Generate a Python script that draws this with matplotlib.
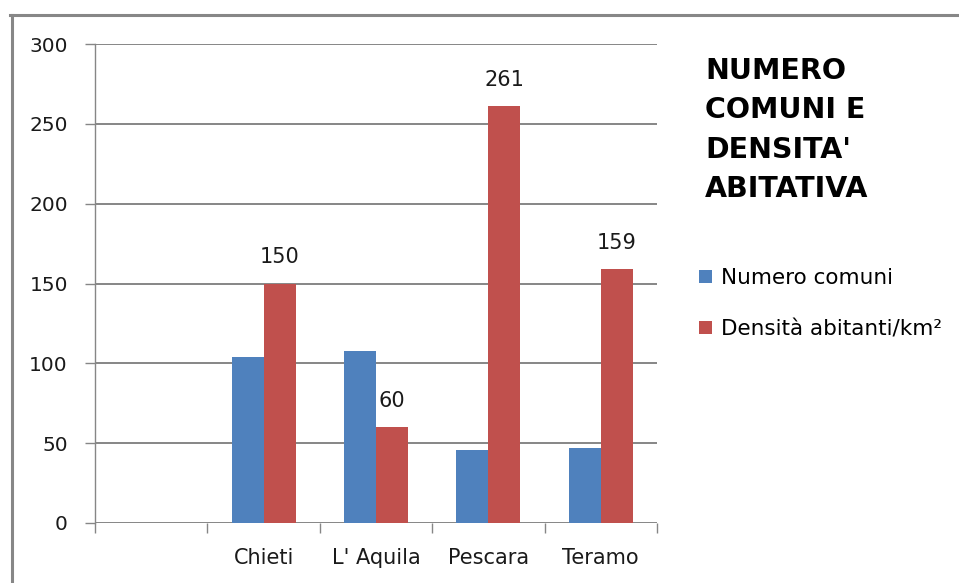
import numpy as np
import matplotlib
matplotlib.use('Agg')
import matplotlib.pyplot as plt
from matplotlib.lines import Line2D
from matplotlib.patches import Patch
from matplotlib.ticker import MultipleLocator, FixedLocator

# data
provinces = ['', 'Chieti', "L' Aquila", 'Pescara', 'Teramo']
numero_comuni = [np.nan, 104, 108, 46, 47]
densita = [np.nan, 150, 60, 261, 159]
series_names = ['Numero comuni', 'Densità abitanti/km²']
title = "NUMERO\nCOMUNI E\nDENSITA'\nABITATIVA"

blue = '#4F81BD'
red = '#C0504D'
grey = '#868686'

W, H = 959, 583
fig = plt.figure(figsize=(W / 100, H / 100), dpi=100)
plt.rcParams['font.family'] = ['DejaVu Sans']

ax = fig.add_axes([95 / W, 1 - 523 / H, (657 - 95) / W, (523 - 44) / H])

x = np.arange(len(provinces))
w = 0.285
ax.bar(x - w / 2, numero_comuni, w, color=blue, zorder=3)
bars = ax.bar(x + w / 2, densita, w, color=red, zorder=3)

for xi, v in zip(x, densita):
    if np.isnan(v):
        continue
    ax.annotate(str(int(v)), (xi + w / 2, v), xytext=(0, 19), textcoords='offset points',
                ha='center', va='center', fontsize=15, color='#1a1a1a')

ax.set_xlim(-0.5, len(provinces) - 0.5)
ax.set_ylim(0, 300)
ax.yaxis.set_major_locator(MultipleLocator(50))
ax.grid(axis='y', color=grey, linewidth=1.4, zorder=0)

for s in ['top', 'right', 'bottom']:
    ax.spines[s].set_visible(False)
ax.spines['left'].set_color(grey)
ax.spines['left'].set_linewidth(1.0)

ax.set_xticks(x)
ax.set_xticklabels(provinces, fontsize=15, color='#1a1a1a')
ax.tick_params(axis='x', which='major', length=0, pad=18)
ax.xaxis.set_minor_locator(FixedLocator(np.arange(-0.5, len(provinces), 1.0)))
ax.tick_params(axis='x', which='minor', length=7.5, width=1.0, color=grey)
ax.tick_params(axis='y', length=7.5, width=1.0, color=grey, labelsize=14.5,
               labelcolor='#1a1a1a', pad=12)

fig.text(705 / W, 1 - 57 / H, title, fontsize=20.5, fontweight='bold',
         va='top', ha='left', linespacing=1.52, color='black')

handles = [Patch(facecolor=blue), Patch(facecolor=red)]
fig.legend(handles, series_names, loc='upper left', bbox_to_anchor=(699 / W, 1 - 268 / H),
           frameon=False, fontsize=15.5, handlelength=0.6, handleheight=0.6,
           handletextpad=0.42, labelspacing=1.45, borderaxespad=0, borderpad=0)

# grey border of the chart area
fig.add_artist(Line2D([11.5 / W, 11.5 / W], [0, 1 - 14.5 / H], color='#878787',
                      linewidth=2.2, transform=fig.transFigure))
fig.add_artist(Line2D([10 / W, 1], [1 - 14.5 / H, 1 - 14.5 / H], color='#878787',
                      linewidth=2.2, transform=fig.transFigure))

fig.savefig('out.png', dpi=100)
